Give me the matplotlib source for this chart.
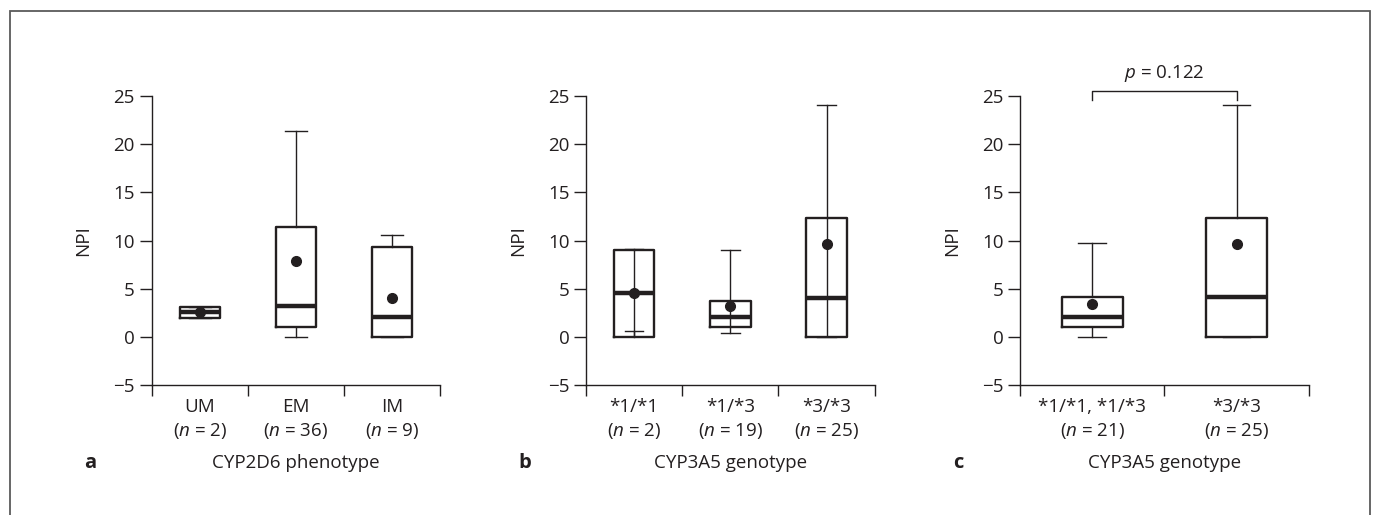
import matplotlib
matplotlib.use("Agg")
import matplotlib.pyplot as plt
from matplotlib.patches import Rectangle

plt.rcParams["font.family"] = ["Open Sans", "DejaVu Sans"]
plt.rcParams["mathtext.fontset"] = "custom"
plt.rcParams["mathtext.rm"] = "Open Sans"
plt.rcParams["mathtext.it"] = "Open Sans:italic"

INK = "#231f20"
FS = 13.5

# Panel a: CYP2D6 phenotype
a_groups = ["UM", "EM", "IM"]
a_n = [2, 36, 9]
a_q1 = [2.0, 1.03, 0.0]
a_med = [2.56, 3.24, 2.1]
a_q3 = [3.14, 11.42, 9.28]
a_lo = [2.0, 0.0, 0.0]
a_hi = [3.14, 21.36, 10.56]
a_mean = [2.56, 7.83, 4.0]

# Panel b: CYP3A5 genotype
b_groups = ["*1/*1", "*1/*3", "*3/*3"]
b_n = [2, 19, 25]
b_q1 = [0.0, 1.03, 0.0]
b_med = [4.59, 2.1, 4.07]
b_q3 = [9.04, 3.73, 12.3]
b_lo = [0.62, 0.38, 0.0]
b_hi = [9.1, 9.0, 24.0]
b_mean = [4.6, 3.24, 9.66]

# Panel c: CYP3A5 genotype, pooled
c_groups = ["*1/*1, *1/*3", "*3/*3"]
c_n = [21, 25]
c_q1 = [1.03, 0.0]
c_med = [2.1, 4.1]
c_q3 = [4.17, 12.29]
c_lo = [0.0, 0.0]
c_hi = [9.76, 24.0]
c_mean = [3.38, 9.66]
c_p = 0.122

y_ticks = [-5, 0, 5, 10, 15, 20, 25]


def draw_panel(ax, groups, n, q1, med, q3, lo, hi, mean, letter, xlabel,
               capw, through=False):
    k = len(groups)
    pos = [i + 0.5 for i in range(k)]
    stats = []
    for i in range(k):
        stats.append(dict(med=med[i], q1=q1[i], q3=q3[i], whislo=lo[i],
                          whishi=hi[i], mean=mean[i], fliers=[]))
    if through:
        ax.vlines(pos, q1, q3, color=INK, lw=1.0, zorder=1)
    ax.bxp(stats, positions=pos, widths=0.42, showmeans=True,
           capwidths=capw, patch_artist=False,
           boxprops=dict(color=INK, lw=1.7),
           medianprops=dict(color=INK, lw=3.2, solid_capstyle="butt"),
           whiskerprops=dict(color=INK, lw=1.0),
           capprops=dict(color=INK, lw=1.0),
           meanprops=dict(marker="o", markerfacecolor=INK,
                          markeredgecolor=INK, markersize=7),
           manage_ticks=False)
    ax.set_xlim(0, k)
    ax.set_ylim(-5, 25)
    ax.set_yticks(y_ticks)
    ax.set_yticklabels(["\u22125" if t < 0 else str(t) for t in y_ticks])
    ax.set_xticks(range(k + 1))
    ax.set_xticklabels([])
    ax.set_xticks(pos, minor=True)
    ax.set_xticklabels([f"{g}\n($\\mathit{{n}}$ = {m})" for g, m in zip(groups, n)],
                       minor=True, linespacing=1.35)
    ax.tick_params(axis="x", which="minor", length=0, pad=9,
                   labelsize=FS, colors=INK)
    ax.tick_params(axis="x", which="major", length=8, width=1.0,
                   color=INK)
    ax.tick_params(axis="y", length=9, width=1.0, color=INK,
                   labelsize=FS, labelcolor=INK, pad=3)
    for s in ("top", "right"):
        ax.spines[s].set_visible(False)
    for s in ("left", "bottom"):
        ax.spines[s].set_color(INK)
        ax.spines[s].set_linewidth(1.0)
    ax.set_ylabel("NPI", fontsize=FS, color=INK)
    ax.yaxis.set_label_coords(-0.205, 0.5)
    ax.text(-0.214, -0.268, letter, transform=ax.transAxes, fontsize=FS + 1,
            fontweight="bold", color=INK, ha="center", va="center")
    ax.text(0.5, -0.268, xlabel, transform=ax.transAxes, fontsize=FS,
            color=INK, ha="center", va="center")
    return pos


fig = plt.figure(figsize=(13.76, 5.15), dpi=100)
ax_a = fig.add_axes([0.1102, 0.2518, 0.2096, 0.5624])
ax_b = fig.add_axes([0.4259, 0.2518, 0.2098, 0.5624])
ax_c = fig.add_axes([0.7413, 0.2518, 0.2098, 0.5624])

draw_panel(ax_a, a_groups, a_n, a_q1, a_med, a_q3, a_lo, a_hi, a_mean,
           "a", "CYP2D6 phenotype", capw=0.23)
draw_panel(ax_b, b_groups, b_n, b_q1, b_med, b_q3, b_lo, b_hi, b_mean,
           "b", "CYP3A5 genotype", capw=0.19, through=True)
pos_c = draw_panel(ax_c, c_groups, c_n, c_q1, c_med, c_q3, c_lo, c_hi, c_mean,
                   "c", "CYP3A5 genotype", capw=0.19)

# significance bracket
ax_c.plot([pos_c[0], pos_c[0], pos_c[1], pos_c[1]], [24.6, 25.5, 25.5, 24.6],
          color=INK, lw=1.0, clip_on=False)
ax_c.text((pos_c[0] + pos_c[1]) / 2, 27.3, f"$\\mathit{{p}}$ = {c_p}",
          fontsize=FS, color=INK, ha="center", va="center")

# outer frame
fig.patches.append(Rectangle((10 / 1376, -0.05), 1360 / 1376, 1 - 11 / 515 + 0.05,
                             transform=fig.transFigure, fill=False,
                             edgecolor="#5a5a5a", lw=1.3))

fig.savefig("out.png", dpi=100)
